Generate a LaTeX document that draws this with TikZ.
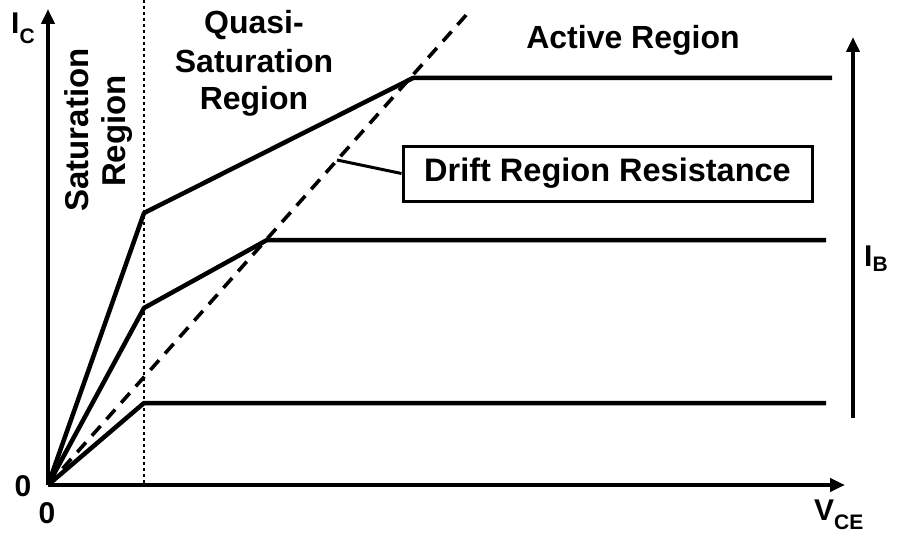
\documentclass[tikz,border=0pt]{standalone}
\usepackage{fontspec}
\setmainfont{Liberation Sans}
\usetikzlibrary{arrows.meta}
% symbol with a lowered subscript, e.g. I_C
\newcommand{\sublab}[3]{{\fontsize{30}{32}\selectfont #1}\raisebox{-#3pt}{\fontsize{21}{23}\selectfont #2}}
\begin{document}
\begin{tikzpicture}[x=1pt,y=-1pt,
  axis/.style={line width=4pt,-{Triangle[length=15pt,width=13pt]}},
  curve/.style={line width=4.5pt,line join=round},
  level/.style={line width=4pt},
  lbl/.style={font=\fontsize{32}{38}\selectfont\bfseries,inner sep=0pt},
  vlbl/.style={font=\fontsize{33}{38}\selectfont\bfseries,inner sep=0pt,rotate=90,anchor=base},
  num/.style={font=\fontsize{30}{32}\selectfont\bfseries,inner sep=0pt},
  callout/.style={draw,line width=3pt,minimum width=409pt,minimum height=55pt,inner sep=0pt,
    font=\fontsize{32.5}{38}\selectfont\bfseries}]
\useasboundingbox (0,0) rectangle (897,535);

% key points of the characteristic curves
\coordinate (O) at (48,485);
\coordinate (ytop) at (48,9);
\coordinate (xend) at (845,485);
\coordinate (s1) at (144,213);
\coordinate (q1) at (413,78);
\coordinate (e1) at (832,78);
\coordinate (s2) at (144,308);
\coordinate (q2) at (267,240);
\coordinate (e2) at (826,240);
\coordinate (s3) at (144,403);
\coordinate (e3) at (826,403);
\coordinate (dtop) at (468,13);
\coordinate (dmark) at (337,160);
\coordinate (vtop) at (144,0);
\coordinate (vbot) at (144,485);
\coordinate (ibot) at (853,418);
\coordinate (itop) at (853,37);

% boundary of the saturation region
\draw[line width=2.8pt,dash pattern=on 3pt off 3pt] (vtop) -- (vbot);

% drift region resistance line
\draw[line width=3.6pt,dash pattern=on 13pt off 9pt] (O) -- (dtop);

% output characteristics
\draw[curve] (O) -- (s1) -- (q1) -- (e1);
\draw[curve] (O) -- (s2) -- (q2) -- (e2);
\draw[curve] (O) -- (s3) -- (e3);

% axes
\draw[axis] (O) -- (ytop);
\draw[axis] (O) -- (xend);
\draw[axis] (ibot) -- (itop);

% axis labels
\node[inner sep=0pt,anchor=base west] (ic) at (11,34) {\bfseries\sublab{I}{C}{10}};
\node[inner sep=0pt,anchor=base west] (vce) at (814,520) {\bfseries\sublab{V}{CE}{9}};
\node[inner sep=0pt,anchor=base west] (ib) at (864,266) {\bfseries\sublab{I}{B}{5}};
\node[num] (zy) at (23,486) {0};
\node[num] (zx) at (47,513) {0};

% region labels
\node[vlbl] (sat1) at (88,130) {Saturation};
\node[vlbl] (sat2) at (125,131) {Region};
\node[lbl,anchor=base] (qs1) at (254,34) {Quasi-};
\node[lbl,anchor=base] (qs2) at (254,73) {Saturation};
\node[lbl,anchor=base] (qs3) at (254,110) {Region};
\node[lbl,anchor=base] (act) at (633,49) {Active Region};

% callout
\node[callout] (drift) at (607.5,173.5) {Drift Region Resistance};
\draw[line width=3pt] (drift.west) -- (dmark);
\end{tikzpicture}
\end{document}
